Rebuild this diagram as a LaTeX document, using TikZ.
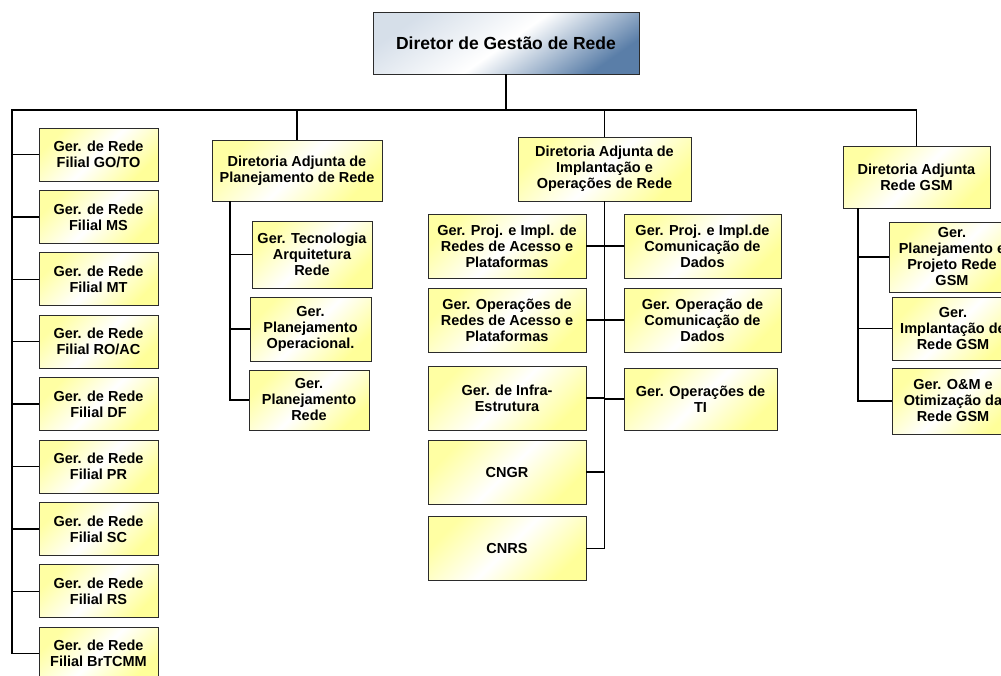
\documentclass[tikz,border=0pt]{standalone}
\usepackage{fontspec}
\setmainfont{Liberation Sans}
\usepackage{tikz}
\usetikzlibrary{positioning,calc}
\definecolor{boxcol}{HTML}{FFFF99}
\definecolor{topcol}{HTML}{5A7EA8}
\definecolor{edgecol}{HTML}{2B2B2B}
\tikzset{
  orgbox/.style 2 args={draw=edgecol,line width=0.9pt,top color=boxcol!90,bottom color=boxcol,
    middle color=white,shading angle=45,align=center,inner sep=0pt,
    font=\bfseries\fontsize{14.5}{16}\selectfont,minimum width=#1pt,minimum height=#2pt},
  topbox/.style={draw=edgecol,line width=1pt,top color=topcol!25,bottom color=topcol,
    middle color=white,shading angle=35,inner sep=0pt,
    font=\bfseries\fontsize{17.5}{20}\selectfont,minimum width=266pt,minimum height=62pt},
  link/.style={line width=1.5pt,line cap=rect},
}

\begin{document}
\begin{tikzpicture}[x=1pt,y=-1pt]
  \useasboundingbox (0,0) rectangle (1001,675);
  \node[topbox] (dir) at (506,43) {Diretor de Gestão de Rede};
  % filiais
  \foreach \t [count=\k] in {{GO/TO},MS,MT,{RO/AC},DF,PR,SC,RS,BrTCMM}
    \node[orgbox={119}{53}] (fil\k) at (98.5,{154.5+62.4*(\k-1)}) {Ger. de Rede\\Filial \t};
  % planejamento
  \node[orgbox={170}{61}] (dap) at (297,170.5) {Diretoria Adjunta de\\Planejamento de Rede};
  \node[orgbox={120}{67}] (tec) at (312,254.5) {Ger. Tecnologia\\Arquitetura\\Rede};
  \node[orgbox={121}{64}] (ope) at (310.5,329) {Ger.\\Planejamento\\Operacional.};
  \node[orgbox={120}{60}] (plr) at (309,400) {Ger.\\Planejamento\\Rede};
  % implantacao e operacoes
  \node[orgbox={173}{64}] (dio) at (604.5,169) {Diretoria Adjunta de\\Implantação e\\Operações de Rede};
  \node[orgbox={158}{64}] (pia) at (507,246) {Ger. Proj. e Impl. de\\Redes de Acesso e\\Plataformas};
  \node[orgbox={158}{64}] (ora) at (507,320) {Ger. Operações de\\Redes de Acesso e\\Plataformas};
  \node[orgbox={158}{64}] (inf) at (507,398) {Ger. de Infra-\\Estrutura};
  \node[orgbox={158}{64}] (cngr) at (507,472) {CNGR};
  \node[orgbox={158}{64}] (cnrs) at (507,548.5) {CNRS};
  \node[orgbox={157}{64}] (pcd) at (702.5,246) {Ger. Proj. e Impl.de\\Comunicação de\\Dados};
  \node[orgbox={157}{64}] (ocd) at (702.5,320) {Ger. Operação de\\Comunicação de\\Dados};
  \node[orgbox={153}{62}] (oti) at (700.5,399) {Ger. Operações de\\TI};
  % gsm
  \node[orgbox={147}{62}] (gsm) at (916.5,177) {Diretoria Adjunta\\Rede GSM};
  \node[orgbox={126}{70}] (gpp) at (952,257) {Ger.\\Planejamento e\\Projeto Rede\\GSM};
  \node[orgbox={122}{63}] (gim) at (953,328.5) {Ger.\\Implantação de\\Rede GSM};
  \node[orgbox={122}{66}] (gom) at (953,401) {Ger. O\&M e\\Otimização da\\Rede GSM};

  % ligacoes
  \coordinate (busL) at (12,110);
  \coordinate (spP) at (230,0);
  \coordinate (spG) at (858,0);
  \draw[link] (dir.south) -- (dir.south |- busL);
  \draw[link] (busL) -- (gsm.north |- busL) -- (gsm.north);
  \draw[link] (dap.north |- busL) -- (dap.north);
  \draw[link] (dio.north |- busL) -- (dio.north);
  \draw[link] (busL) |- (fil9.west);
  \foreach \k in {1,...,8} \draw[link] (fil\k.west -| busL) -- (fil\k.west);
  \draw[link] (dap.south -| spP) |- (plr.west);
  \foreach \n in {tec,ope} \draw[link] (\n.west -| spP) -- (\n.west);
  \draw[link] (dio.south) |- (cnrs.east);
  \foreach \n in {pia,ora,inf,cngr} \draw[link] (\n.east -| dio.south) -- (\n.east);
  \foreach \n in {pcd,ocd,oti} \draw[link] (dio.south |- \n.west) -- (\n.west);
  \draw[link] (gsm.south -| spG) |- (gom.west);
  \foreach \n in {gpp,gim} \draw[link] (\n.west -| spG) -- (\n.west);
\end{tikzpicture}
\end{document}
